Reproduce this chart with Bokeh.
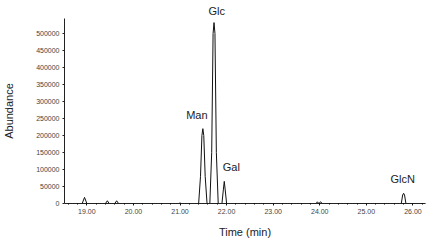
from bokeh.plotting import figure
from bokeh.models import Label, Range1d, FixedTicker, Title
from bokeh.embed import file_html
from bokeh.resources import INLINE

# chromatogram trace (time in min, abundance)
time = [18.52, 18.90, 18.95, 19.00, 19.40, 19.44, 19.48, 19.60, 19.64, 19.68,
        20.98, 21.00, 21.02,
        21.40, 21.44, 21.47, 21.49, 21.51, 21.54, 21.58,
        21.64, 21.68, 21.71, 21.73, 21.75, 21.78, 21.82,
        21.90, 21.93, 21.95, 21.97, 22.00,
        23.92, 23.95, 23.98, 24.02, 24.05,
        25.75, 25.78, 25.80, 25.82, 25.85, 26.27]
abundance = [0, 0, 18000, 0, 0, 8000, 0, 0, 8000, 0,
             0, 2000, 0,
             0, 80000, 200000, 220000, 200000, 80000, 0,
             0, 150000, 500000, 532000, 500000, 150000, 0,
             0, 40000, 65000, 40000, 0,
             0, 5000, 0, 5000, 0,
             0, 25000, 30000, 25000, 0, 0]

peak_names = ["Man", "Glc", "Gal", "GlcN"]
peak_times = [21.49, 21.73, 21.95, 25.80]
peak_heights = [220000, 532000, 65000, 30000]
label_dx = [-6, 2, 7, -1]

x_ticks = [19, 20, 21, 22, 23, 24, 25, 26]
x_tick_labels = ["19.00", "20.00", "21.00", "22.00", "23.00", "24.00", "25.00", "26.00"]
y_ticks = [0, 50000, 100000, 150000, 200000, 250000, 300000, 350000, 400000, 450000, 500000]

FONT = "Liberation Sans"

p = figure(width=430, height=241, output_backend="svg", toolbar_location=None,
           x_range=Range1d(18.52, 26.27), y_range=Range1d(0, 544000),
           min_border_left=63, min_border_top=18, min_border_bottom=38, min_border_right=5)
p.outline_line_color = None
p.xgrid.visible = False
p.ygrid.visible = False
p.background_fill_color = "white"
p.border_fill_color = "white"

p.line(time, abundance, line_color="#111111", line_width=1)

for name, t, h, dx in zip(peak_names, peak_times, peak_heights, label_dx):
    if h == max(peak_heights):
        # the tallest peak's name sits above the plot frame
        p.add_layout(Title(text=name, align="left", offset=144, standoff=4,
                           text_font=FONT, text_font_size="11px",
                           text_font_style="normal", text_color="#222222"), "above")
        continue
    p.add_layout(Label(x=t, y=h, text=name, x_offset=dx, y_offset=8,
                       text_align="center", text_baseline="bottom",
                       text_font=FONT, text_font_size="11px", text_color="#222222"))

p.xaxis.ticker = FixedTicker(ticks=x_ticks,
                             minor_ticks=[t / 5 for t in range(93, 132)])
p.xaxis.major_label_overrides = {t: l for t, l in zip(x_ticks, x_tick_labels)}
p.yaxis.ticker = FixedTicker(ticks=y_ticks)
p.yaxis.formatter.use_scientific = False

for ax in (p.xaxis[0], p.yaxis[0]):
    ax.axis_line_color = "#222222"
    ax.major_tick_line_color = "#222222"
    ax.major_tick_in = 0
    ax.major_tick_out = 2
    ax.minor_tick_in = 0
    ax.minor_tick_out = 1
    ax.major_label_text_font = FONT
    ax.major_label_text_font_size = "7px"
    ax.major_label_text_color = "#444444"
    ax.major_label_standoff = 3
    ax.axis_label_text_font = FONT
    ax.axis_label_text_font_size = "11px"
    ax.axis_label_text_font_style = "normal"
    ax.axis_label_text_color = "#222222"

p.yaxis.minor_tick_line_color = None
p.xaxis.axis_label = "Time (min)"
p.yaxis.axis_label = "Abundance"
p.xaxis.axis_label_standoff = 9
p.yaxis.axis_label_standoff = 18

open("out.html", "w").write(file_html(p, INLINE))
